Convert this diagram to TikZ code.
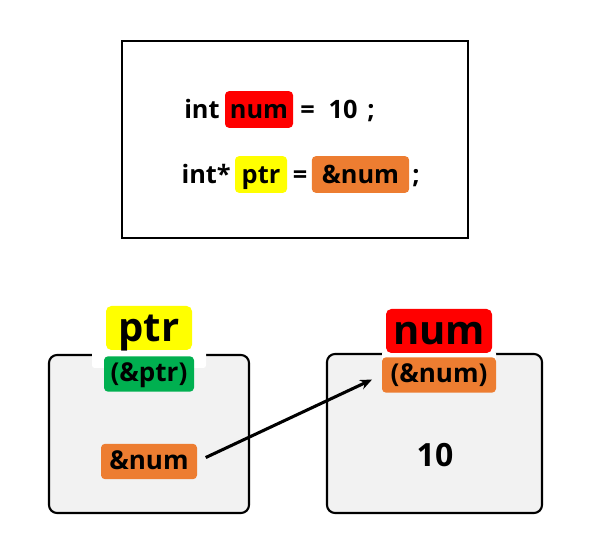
\documentclass[tikz,border=0pt]{standalone}
\usepackage{fontspec}
\setmainfont{Open Sans}
\usetikzlibrary{arrows.meta}
\definecolor{numred}{RGB}{255,0,0}
\definecolor{ptryellow}{RGB}{255,255,0}
\definecolor{addrorange}{RGB}{237,125,49}
\definecolor{addrgreen}{RGB}{0,176,80}
\definecolor{cellgray}{RGB}{242,242,242}
\tikzset{
  codetxt/.style={font=\fontsize{19}{23}\selectfont\bfseries, inner sep=0pt, text height=15.5pt, text depth=2.5pt},
  codetag/.style={codetxt, rounded corners=3pt, minimum height=27.5pt},
  bigtag/.style={font=\fontsize{30}{35}\selectfont\bfseries, inner sep=0pt, text height=24pt, text depth=3pt, rounded corners=4pt, minimum height=33pt},
  smalltag/.style={font=\fontsize{19.5}{23}\selectfont\bfseries, inner sep=0pt, text height=14pt, text depth=2.5pt, rounded corners=3pt, minimum height=26.5pt},
  membox/.style={draw=black, fill=cellgray, line width=1.6pt, rounded corners=6pt},
  ptrarrow/.style={line width=2.3pt, -{Stealth[length=9pt,width=7.5pt]}, shorten <=7pt, shorten >=8pt}
}
\begin{document}
\begin{tikzpicture}[x=0.75pt,y=0.75pt,yscale=-1,xscale=1]
  \useasboundingbox (0,0) rectangle (600,559);

  % code frame
  \draw [line width=1.5pt] (122,41) rectangle (468,238);

  % Text Node: int num = 10 ;
  \node [codetxt, anchor=west] (int1) at (184,109.5) {int};
  \node [codetag, fill=numred, minimum width=51pt] (numdecl) at (259,109.5) {num};
  \node [codetxt] (eq1) at (307.5,109.5) {=};
  \node [codetxt] (ten1) at (343,109.5) {10};
  \node [codetxt] (semi1) at (371,109.5) {;};

  % Text Node: int* ptr = &num ;
  \node [codetxt, anchor=east] (int2) at (231,174.5) {int*};
  \node [codetag, fill=ptryellow, minimum width=39pt] (ptrdecl) at (261,174.5) {ptr};
  \node [codetxt] (eq2) at (300,174.5) {=};
  \node [codetag, fill=addrorange, minimum width=73pt] (addrdecl) at (360.5,174.5) {\&num};
  \node [codetxt] (semi2) at (416,174.5) {;};

  % memory cells
  \node [membox, minimum width=150pt, minimum height=118.5pt] (ptrbox) at (149,434) {};
  \node [membox, minimum width=161.25pt, minimum height=119.25pt] (numbox) at (434.5,433.5) {};
  \fill [white, rounded corners=2pt] (92,351) rectangle (206,368);
  \fill [white, rounded corners=2pt] (382,351) rectangle (496,368);

  % Text Node: ptr cell
  \node [bigtag, fill=ptryellow, minimum width=64.5pt] (ptrname) at (149,328) {ptr};
  \node [smalltag, fill=addrgreen, minimum width=67.5pt] (ptraddr) at (149,374) {(\&ptr)};
  \node [smalltag, fill=addrorange, minimum width=72pt] (ptrval) at (149,461.5) {\&num};

  % Text Node: num cell
  \node [bigtag, fill=numred, minimum width=79.5pt] (numname) at (439,331) {num};
  \node [smalltag, fill=addrorange, minimum width=85.5pt] (numaddr) at (439,375) {(\&num)};
  \node [font=\fontsize{24}{29}\selectfont\bfseries] (numval) at (435,455) {10};

  % pointer
  \draw [ptrarrow] (ptrval.east) -- (numaddr.west);
\end{tikzpicture}
\end{document}
